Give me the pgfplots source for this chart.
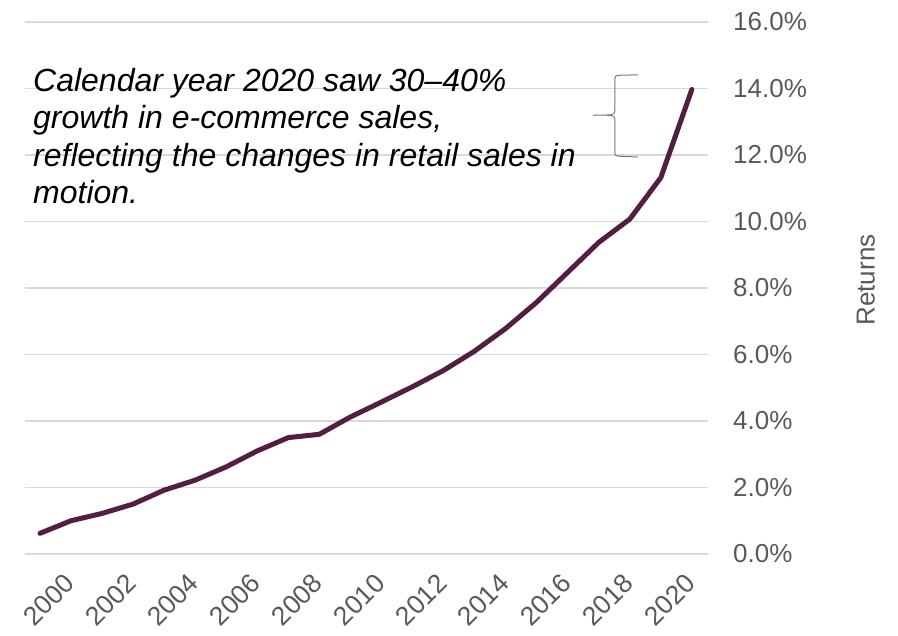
\documentclass[border=0pt]{standalone}
\usepackage{fontspec}
\setmainfont{Liberation Sans}
\usepackage{pgfplots}
\pgfplotsset{compat=1.18}
\definecolor{linec}{RGB}{82,30,65}
\definecolor{gridc}{RGB}{217,217,217}
\definecolor{txtc}{RGB}{89,89,89}
\definecolor{bracec}{RGB}{120,120,120}
\begin{document}
\begin{tikzpicture}
\path[use as bounding box] (-25pt,-82pt) rectangle (873pt,554pt);
\begin{axis}[
  at={(0pt,0pt)}, anchor=south west,
  scale only axis, width=683pt, height=532pt,
  xmin=1998.52, xmax=2020.52, ymin=0, ymax=16,
  axis x line*=bottom, axis y line*=right,
  axis line style={draw=none},
  major tick length=0pt,
  xtick={2000,2002,...,2020},
  ytick={0,2,...,16},
  ymajorgrids,
  major grid style={gridc, line width=1.5pt},
  yticklabel pos=right,
  /pgf/number format/assume math mode=true,
  /pgf/number format/1000 sep={},
  yticklabel={\pgfmathprintnumber[fixed,fixed zerofill,precision=1]{\tick}\%},
  yticklabel style={anchor=west, inner sep=0pt, xshift=25pt, text=txtc, font=\fontsize{26}{30}\selectfont},
  xticklabel style={anchor=north east, inner sep=0pt, xshift=-8pt, yshift=-18pt, rotate=45, text=txtc, font=\fontsize{26.5}{30}\selectfont},
  ylabel={Returns},
  ylabel style={at={(axis description cs:1.231,0.515)}, anchor=center, rotate=0, text=txtc, font=\fontsize{26}{30}\selectfont},
]
\addplot[color=linec, line width=5pt, line cap=round, line join=round] coordinates {
(1999,0.62) (2000,1.0) (2001,1.22) (2002,1.5) (2003,1.92) (2004,2.22)
(2005,2.62) (2006,3.1) (2007,3.5) (2008,3.6) (2009,4.12) (2010,4.57)
(2011,5.03) (2012,5.52) (2013,6.1) (2014,6.78) (2015,7.57) (2016,8.47)
(2017,9.37) (2018,10.07) (2019,11.32) (2020,13.97)
};
\draw[bracec, line width=1pt]
  (axis cs:2018.26,14.41) -- (axis cs:2017.72,14.40)
  .. controls (axis cs:2017.52,14.39) .. (axis cs:2017.52,14.2)
  -- (axis cs:2017.52,13.42)
  .. controls (axis cs:2017.52,13.22) .. (axis cs:2017.25,13.2)
  -- (axis cs:2016.81,13.2);
\draw[bracec, line width=1pt]
  (axis cs:2018.26,11.94) -- (axis cs:2017.72,11.96)
  .. controls (axis cs:2017.52,11.97) .. (axis cs:2017.52,12.16)
  -- (axis cs:2017.52,12.98)
  .. controls (axis cs:2017.52,13.18) .. (axis cs:2017.25,13.2);
\end{axis}
\node[anchor=north west, inner sep=0pt, align=left, font=\fontsize{32}{37.5}\selectfont\itshape] at (8pt,486pt)
{Calendar year 2020 saw 30–40\%\\growth in e-commerce sales,\\reflecting the changes in retail sales in\\motion.};
\end{tikzpicture}
\end{document}
